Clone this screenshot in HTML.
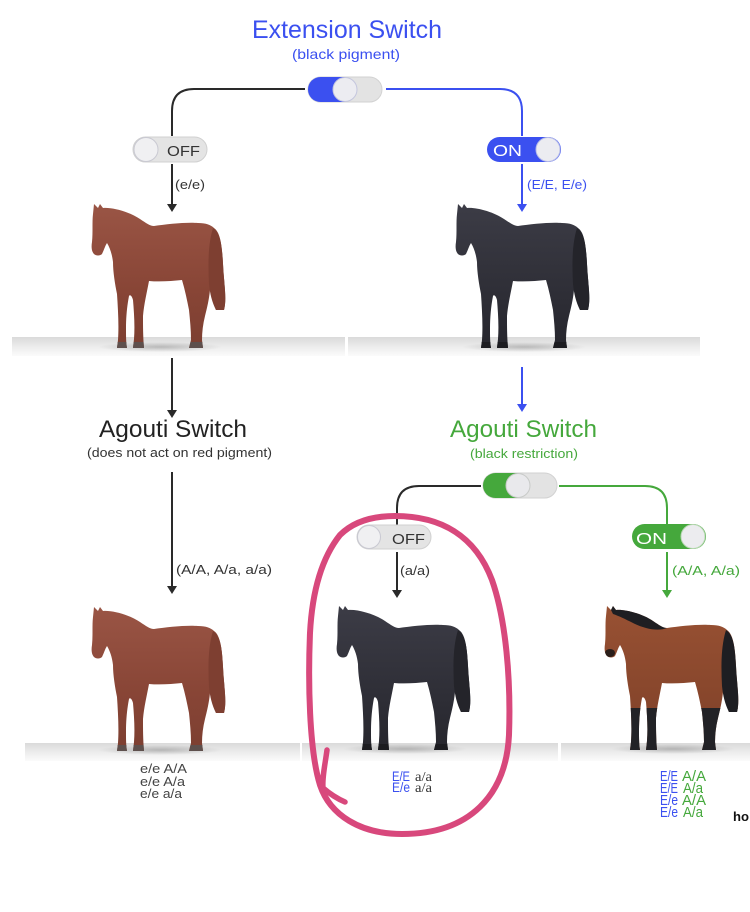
<!DOCTYPE html>
<html><head><meta charset="utf-8"><style>
html,body{margin:0;padding:0;background:#fff;}
svg{display:block;}
text{font-family:"Liberation Sans",sans-serif;}
</style></head><body>
<svg width="750" height="912" viewBox="0 0 750 912" xmlns="http://www.w3.org/2000/svg">
<defs>
  <linearGradient id="gnd" x1="0" y1="0" x2="0" y2="1">
    <stop offset="0" stop-color="#dadada"/><stop offset="0.5" stop-color="#ececec"/><stop offset="1" stop-color="#fbfbfb"/>
  </linearGradient>
  <linearGradient id="chest" x1="0" y1="0" x2="0" y2="1">
    <stop offset="0" stop-color="#9a5545"/><stop offset="0.6" stop-color="#884536"/><stop offset="1" stop-color="#7c3f31"/>
  </linearGradient>
  <linearGradient id="blk" x1="0" y1="0" x2="0" y2="1">
    <stop offset="0" stop-color="#3c3c46"/><stop offset="1" stop-color="#26262d"/>
  </linearGradient>
  <linearGradient id="bay" x1="0" y1="0" x2="0" y2="1">
    <stop offset="0" stop-color="#985133"/><stop offset="1" stop-color="#7e4028"/>
  </linearGradient>
  <radialGradient id="shd" cx="0.5" cy="0.5" r="0.5">
    <stop offset="0" stop-color="#000" stop-opacity="0.22"/><stop offset="1" stop-color="#000" stop-opacity="0"/>
  </radialGradient>
  <path id="hp" d="M2,0 L6,4 L8,0 L11,4 C20,3 38,8 48,15 C54,19 58,22 62,22 C75,20 95,18 106,19 C114,19 119,21 122,24 C128,28 130,40 131,60 C132,80 135,95 132,106 L124,106 C121,98 119,92 118,86 C117,96 115,104 113,112 C111,120 110,128 110,136 L111,144 L97,144 L99,136 C99,126 98,116 97,106 C95,96 93,86 90,76 C80,77 68,78 57,77 C55,88 52,100 51,112 C51,122 51,132 52,144 L41,144 L42,135 C43,122 42,108 41,96 C40,92 38,90 37,92 C35,102 34,114 34,124 C34,132 34,138 35,144 L25,144 L26,136 C27,122 26,105 25,90 C23,80 21,68 21,58 C20,50 18,44 15,39 C13,42 12,46 10,50 C8,52 4,52 2,50 C0,48 -1,44 0,38 C1,28 0,18 1,10 Z"/>
  <path id="tl" d="M121,24 C128,28 130,40 131,60 C132,80 135,95 132,106 L124,106 C120,98 118,90 117,80 C116,60 116,40 121,24 Z"/>
  <path id="mn" d="M6,4 L8,0 L11,4 C20,3 38,8 48,15 C54,19 58,22 62,22 C52,26 38,22 28,17 C20,13 14,10 8,8 Z"/>
  <clipPath id="hc"><use href="#hp"/></clipPath>
</defs>

<rect width="750" height="912" fill="#fff"/>

<!-- ground strips -->
<rect x="12" y="337" width="333" height="19" fill="url(#gnd)"/>
<rect x="348" y="337" width="352" height="19" fill="url(#gnd)"/>
<rect x="25" y="743" width="275" height="18" fill="url(#gnd)"/>
<rect x="302" y="743" width="256" height="18" fill="url(#gnd)"/>
<rect x="561" y="743" width="189" height="18" fill="url(#gnd)"/>

<!-- Horse 1 chestnut top -->
<g transform="translate(92,204)">
  <ellipse cx="68" cy="143" rx="62" ry="5" fill="url(#shd)"/>
  <use href="#hp" fill="url(#chest)"/>
  <use href="#tl" fill="#7e3f31"/>
  <rect x="0" y="138" width="140" height="8" fill="#5e504d" clip-path="url(#hc)"/>
</g>
<!-- Horse 2 black top -->
<g transform="translate(456,204)">
  <ellipse cx="68" cy="143" rx="62" ry="5" fill="url(#shd)"/>
  <use href="#hp" fill="url(#blk)"/>
  <use href="#tl" fill="#24242a"/>
  <rect x="0" y="138" width="140" height="8" fill="#1c1c20" clip-path="url(#hc)"/>
</g>
<!-- Horse 3 chestnut bottom -->
<g transform="translate(92,607)">
  <ellipse cx="68" cy="143" rx="62" ry="5" fill="url(#shd)"/>
  <use href="#hp" fill="url(#chest)"/>
  <use href="#tl" fill="#7e3f31"/>
  <rect x="0" y="138" width="140" height="8" fill="#5e504d" clip-path="url(#hc)"/>
</g>
<!-- Horse 4 black bottom -->
<g transform="translate(337,606)">
  <ellipse cx="68" cy="143" rx="62" ry="5" fill="url(#shd)"/>
  <use href="#hp" fill="url(#blk)"/>
  <use href="#tl" fill="#24242a"/>
  <rect x="0" y="138" width="140" height="8" fill="#1c1c20" clip-path="url(#hc)"/>
</g>
<!-- Horse 5 bay -->
<g transform="translate(605,606)">
  <ellipse cx="68" cy="143" rx="62" ry="5" fill="url(#shd)"/>
  <use href="#hp" fill="url(#bay)"/>
  <rect x="0" y="102" width="140" height="47" fill="#222226" clip-path="url(#hc)"/>
  <use href="#tl" fill="#1e1e22"/>
  <use href="#mn" fill="#1e1e22"/>
  <ellipse cx="5" cy="47" rx="5" ry="4" fill="#2a1e1a" clip-path="url(#hc)"/>
</g>

<!-- Titles -->
<text x="252" y="38" font-size="25" fill="#3b50f0" textLength="190" lengthAdjust="spacingAndGlyphs">Extension Switch</text>
<text x="292" y="59" font-size="14" fill="#3b50f0" textLength="108" lengthAdjust="spacingAndGlyphs">(black pigment)</text>

<!-- top connectors -->
<path d="M305,89 L194,89 Q172,89 172,111 L172,136" fill="none" stroke="#2a2a2a" stroke-width="2"/>
<path d="M386,89 L500,89 Q522,89 522,111 L522,136" fill="none" stroke="#3b50f0" stroke-width="2"/>

<!-- main extension toggle -->
<rect x="308" y="77" width="74" height="25" rx="12.5" fill="#e3e3e3" stroke="#d2d2d2" stroke-width="1"/>
<path d="M320.5,77 L345,77 L345,102 L320.5,102 A12.5,12.5 0 0 1 320.5,77 Z" fill="#3b50f0"/>
<circle cx="345" cy="89.5" r="12" fill="#ececf1" stroke="#c4c6de" stroke-width="1"/>

<!-- OFF toggle left -->
<rect x="133" y="137" width="74" height="25" rx="12.5" fill="#e4e4e4" stroke="#d0d0d0" stroke-width="1"/>
<circle cx="146" cy="149.5" r="12" fill="#f0f0f2" stroke="#c9c9d2" stroke-width="1"/>
<text x="167" y="156" font-size="15" fill="#333" textLength="33" lengthAdjust="spacingAndGlyphs">OFF</text>

<!-- ON toggle right -->
<rect x="487" y="137" width="74" height="25" rx="12.5" fill="#3b50f0"/>
<circle cx="548" cy="149.5" r="12" fill="#ececf1" stroke="#b8bde8" stroke-width="1"/>
<text x="493" y="156" font-size="16" fill="#fff" textLength="29" lengthAdjust="spacingAndGlyphs">ON</text>

<!-- arrows row1 -->
<line x1="172" y1="164" x2="172" y2="205" stroke="#2a2a2a" stroke-width="2"/>
<polygon points="167,204 177,204 172,212" fill="#2a2a2a"/>
<text x="175" y="189" font-size="13" fill="#333" textLength="30" lengthAdjust="spacingAndGlyphs">(e/e)</text>
<line x1="522" y1="164" x2="522" y2="205" stroke="#3b50f0" stroke-width="2"/>
<polygon points="517,204 527,204 522,212" fill="#3b50f0"/>
<text x="527" y="189" font-size="13" fill="#3b50f0" textLength="60" lengthAdjust="spacingAndGlyphs">(E/E, E/e)</text>

<!-- arrows row2 -->
<line x1="172" y1="358" x2="172" y2="411" stroke="#2a2a2a" stroke-width="2"/>
<polygon points="167,410 177,410 172,418" fill="#2a2a2a"/>
<line x1="522" y1="367" x2="522" y2="405" stroke="#3b50f0" stroke-width="2"/>
<polygon points="517,404 527,404 522,412" fill="#3b50f0"/>

<!-- Agouti left -->
<text x="99" y="437" font-size="24" fill="#222" textLength="148" lengthAdjust="spacingAndGlyphs">Agouti Switch</text>
<text x="87" y="457" font-size="13" fill="#333" textLength="185" lengthAdjust="spacingAndGlyphs">(does not act on red pigment)</text>
<line x1="172" y1="472" x2="172" y2="587" stroke="#2a2a2a" stroke-width="2"/>
<polygon points="167,586 177,586 172,594" fill="#2a2a2a"/>
<text x="176" y="574" font-size="13" fill="#333" textLength="96" lengthAdjust="spacingAndGlyphs">(A/A, A/a, a/a)</text>

<!-- Agouti right -->
<text x="450" y="437" font-size="24" fill="#45a83c" textLength="147" lengthAdjust="spacingAndGlyphs">Agouti Switch</text>
<text x="470" y="458" font-size="13" fill="#45a83c" textLength="108" lengthAdjust="spacingAndGlyphs">(black restriction)</text>

<path d="M481,486 L419,486 Q397,486 397,508 L397,525" fill="none" stroke="#2a2a2a" stroke-width="2"/>
<path d="M559,486 L645,486 Q667,486 667,508 L667,524" fill="none" stroke="#45a83c" stroke-width="2"/>

<rect x="483" y="473" width="74" height="25" rx="12.5" fill="#e3e3e3" stroke="#d2d2d2" stroke-width="1"/>
<path d="M495.5,473 L518,473 L518,498 L495.5,498 A12.5,12.5 0 0 1 495.5,473 Z" fill="#45a83c"/>
<circle cx="518" cy="485.5" r="12" fill="#e9e9ec" stroke="#c8cac8" stroke-width="1"/>

<!-- middle OFF toggle -->
<rect x="357" y="525" width="74" height="24" rx="12" fill="#e4e4e4" stroke="#d0d0d0" stroke-width="1"/>
<circle cx="369" cy="537" r="11.5" fill="#f0f0f2" stroke="#c9c9d2" stroke-width="1"/>
<text x="392" y="544" font-size="15" fill="#333" textLength="33" lengthAdjust="spacingAndGlyphs">OFF</text>

<!-- green ON toggle -->
<rect x="632" y="524" width="74" height="25" rx="12.5" fill="#45a83c"/>
<circle cx="693" cy="536.5" r="12" fill="#ececef" stroke="#b9d8b4" stroke-width="1"/>
<text x="636" y="544" font-size="16" fill="#fff" textLength="31" lengthAdjust="spacingAndGlyphs">ON</text>

<!-- arrows row3 -->
<line x1="397" y1="552" x2="397" y2="591" stroke="#2a2a2a" stroke-width="2"/>
<polygon points="392,590 402,590 397,598" fill="#2a2a2a"/>
<text x="400" y="575" font-size="13" fill="#333" textLength="30" lengthAdjust="spacingAndGlyphs">(a/a)</text>
<line x1="667" y1="552" x2="667" y2="591" stroke="#45a83c" stroke-width="2"/>
<polygon points="662,590 672,590 667,598" fill="#45a83c"/>
<text x="672" y="575" font-size="13" fill="#45a83c" textLength="68" lengthAdjust="spacingAndGlyphs">(A/A, A/a)</text>

<!-- bottom labels -->
<g font-size="12.5" fill="#444">
  <text x="140" y="773" textLength="47" lengthAdjust="spacingAndGlyphs">e/e A/A</text>
  <text x="140" y="786" textLength="45" lengthAdjust="spacingAndGlyphs">e/e  A/a</text>
  <text x="140" y="798" textLength="42" lengthAdjust="spacingAndGlyphs">e/e  a/a</text>
</g>
<g font-size="14">
  <text x="392" y="781" fill="#3b50f0" textLength="18" lengthAdjust="spacingAndGlyphs">E/E</text>
  <text x="415" y="781" fill="#333" style="font-family:'Liberation Serif',serif" textLength="17" lengthAdjust="spacingAndGlyphs">a/a</text>
  <text x="392" y="792" fill="#3b50f0" textLength="18" lengthAdjust="spacingAndGlyphs">E/e</text>
  <text x="415" y="792" fill="#333" style="font-family:'Liberation Serif',serif" textLength="17" lengthAdjust="spacingAndGlyphs">a/a</text>
</g>
<g font-size="14.5">
  <text x="660" y="781" fill="#3b50f0" textLength="18" lengthAdjust="spacingAndGlyphs">E/E</text>
  <text x="682" y="781" fill="#45a83c" textLength="24" lengthAdjust="spacingAndGlyphs">A/A</text>
  <text x="660" y="793" fill="#3b50f0" textLength="18" lengthAdjust="spacingAndGlyphs">E/E</text>
  <text x="683" y="793" fill="#45a83c" textLength="20" lengthAdjust="spacingAndGlyphs">A/a</text>
  <text x="660" y="805" fill="#3b50f0" textLength="18" lengthAdjust="spacingAndGlyphs">E/e</text>
  <text x="682" y="805" fill="#45a83c" textLength="24" lengthAdjust="spacingAndGlyphs">A/A</text>
  <text x="660" y="817" fill="#3b50f0" textLength="18" lengthAdjust="spacingAndGlyphs">E/e</text>
  <text x="683" y="817" fill="#45a83c" textLength="20" lengthAdjust="spacingAndGlyphs">A/a</text>
</g>
<text x="733" y="821" font-size="13" font-weight="bold" fill="#111" textLength="16" lengthAdjust="spacingAndGlyphs">ho</text>

<!-- pink hand-drawn loop -->
<path d="M395,516 C440,516 475,535 492,580 C506,620 511,680 509,735 C506,795 470,834 402,834 C360,834 330,815 320,785 C309,750 308,680 310,633 C312,595 320,560 340,535 C355,520 375,516 395,516 Z" fill="none" stroke="#d8487c" stroke-width="6" stroke-linecap="round" stroke-linejoin="round"/>
<path d="M327,750 C325,765 322,778 323,788 C330,794 338,799 345,802" fill="none" stroke="#d8487c" stroke-width="5.5" stroke-linecap="round" stroke-linejoin="round"/>
</svg>
</body></html>
